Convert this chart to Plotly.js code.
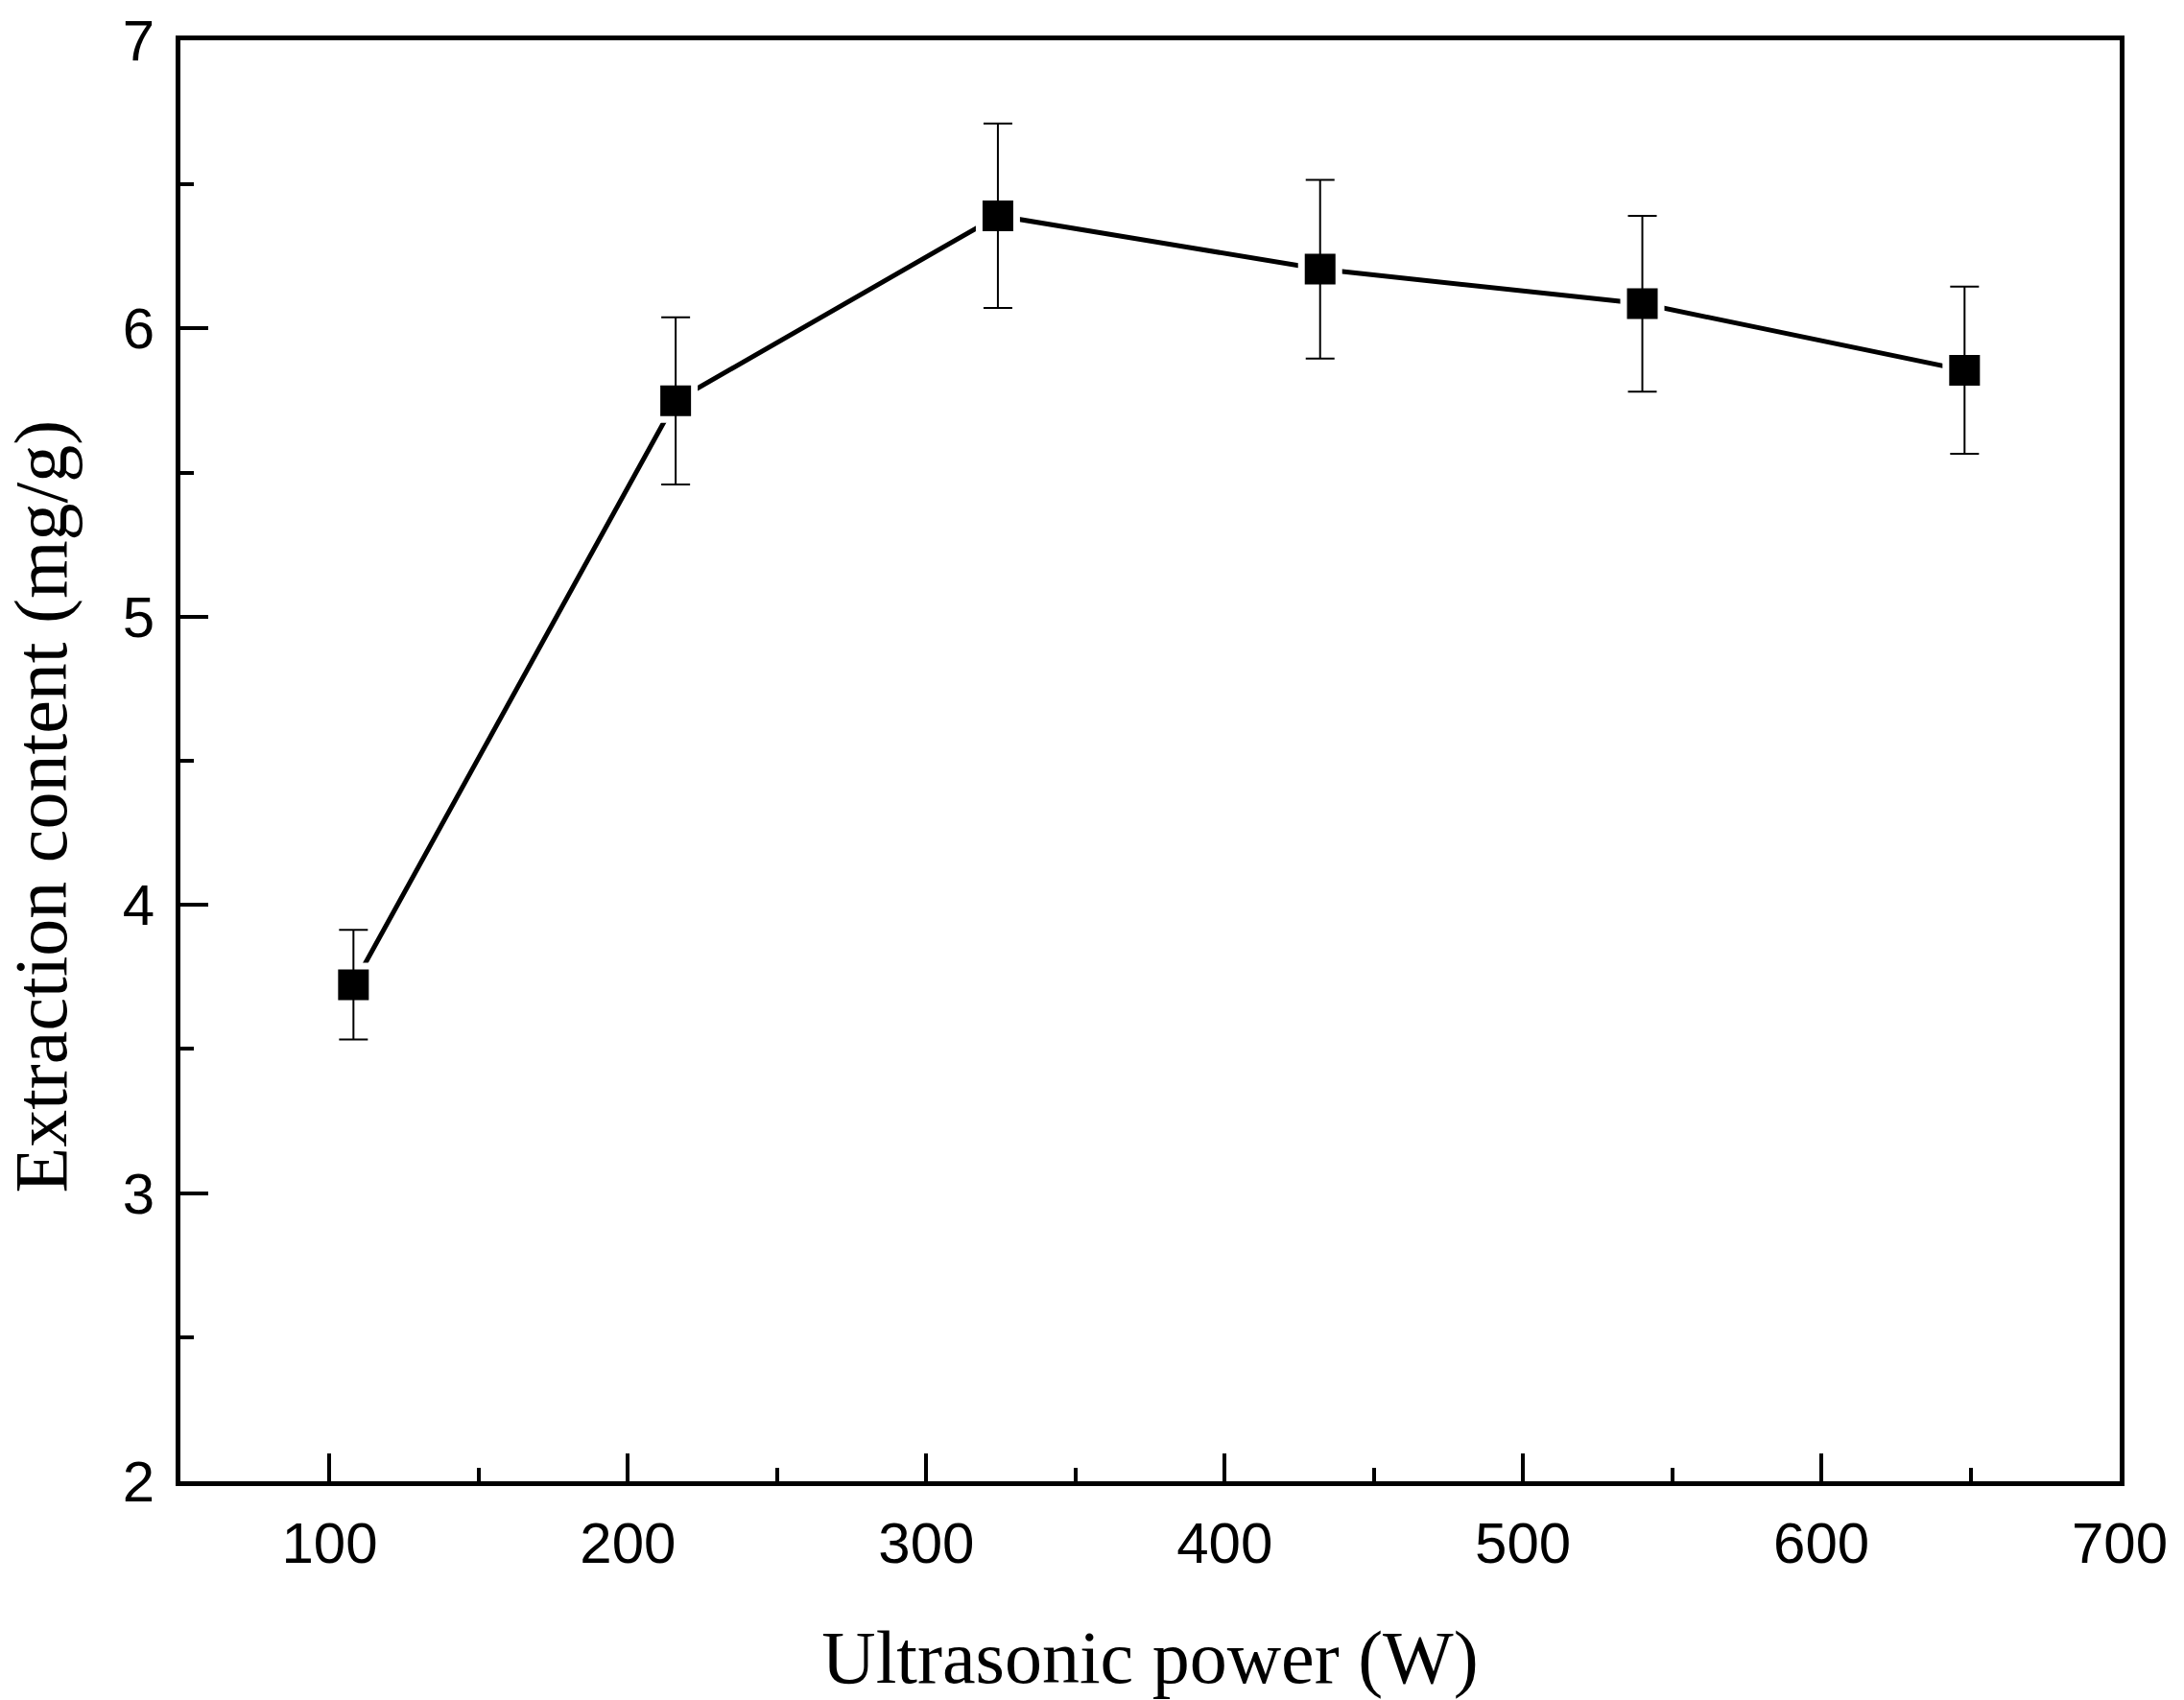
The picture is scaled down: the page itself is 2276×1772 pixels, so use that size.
<!DOCTYPE html>
<html>
<head>
<meta charset="utf-8">
<script src="https://cdn.plot.ly/plotly-3.0.1.min.js"></script>
<style>html,body{margin:0;padding:0;background:#fff;}#chart{width:2276px;height:1772px;}</style>
</head>
<body>
<div id="chart"></div>
<script>
// Data
const power = [108, 216, 324, 432, 540, 648];
const content = [3.723, 5.749, 6.391, 6.206, 6.086, 5.855];
const errors = [0.19, 0.29, 0.32, 0.31, 0.305, 0.29];
const xTicks = [100, 200, 300, 400, 500, 600, 700];
const yTicks = [2, 3, 4, 5, 6, 7];
const xTitle = 'Ultrasonic power (W)';
const yTitle = 'Extraction content (mg/g)';

const tickFont = {family: 'Liberation Sans, Arial, sans-serif', size: 60, color: '#000'};
const titleFont = {family: 'Liberation Serif, Times New Roman, serif', size: 78, color: '#000'};

const traces = [
  {
    x: power, y: content, type: 'scatter', mode: 'lines',
    line: {color: '#000', width: 5},
    hoverinfo: 'skip', showlegend: false
  },
  {
    x: power, y: content, type: 'scatter', mode: 'markers',
    marker: {symbol: 'square', size: 46, color: '#fff', line: {width: 0}},
    hoverinfo: 'skip', showlegend: false
  },
  {
    x: power, y: content, type: 'scatter', mode: 'markers',
    marker: {symbol: 'square', size: 32, color: '#000', line: {width: 0}},
    error_y: {type: 'data', array: errors, visible: true, color: '#000', thickness: 2, width: 15},
    showlegend: false
  }
];

const layout = {
  width: 2276, height: 1772,
  margin: {l: 188, r: 67, t: 42, b: 228},
  paper_bgcolor: '#fff', plot_bgcolor: '#fff',
  showlegend: false,
  xaxis: {
    range: [50, 700], tickmode: 'array', tickvals: xTicks, ticktext: xTicks.map(String),
    ticks: 'inside', ticklen: 29, tickwidth: 4, tickcolor: '#000',
    minor: {dtick: 50, tick0: 0, ticks: 'inside', ticklen: 14, tickwidth: 4, tickcolor: '#000', showgrid: false},
    showline: true, linewidth: 5, linecolor: '#000', mirror: true,
    showgrid: false, zeroline: false, tickfont: tickFont,
    ticklabelstandoff: 8,
    title: {text: xTitle, font: titleFont, standoff: 60}
  },
  yaxis: {
    range: [2, 7], tickmode: 'array', tickvals: yTicks, ticktext: yTicks.map(String),
    ticks: 'inside', ticklen: 29, tickwidth: 4, tickcolor: '#000',
    minor: {dtick: 0.5, tick0: 0, ticks: 'inside', ticklen: 14, tickwidth: 4, tickcolor: '#000', showgrid: false},
    showline: true, linewidth: 5, linecolor: '#000', mirror: true,
    showgrid: false, zeroline: false, tickfont: tickFont,
    ticklabelstandoff: 10
  },
  annotations: [{
    text: yTitle, textangle: -90, font: titleFont,
    xref: 'paper', yref: 'paper', x: -188 / 2021, y: 1 - (841 - 42) / 1502,
    xanchor: 'left', yanchor: 'middle', showarrow: false, xshift: -4
  }]
};

Plotly.newPlot('chart', traces, layout, {displayModeBar: false, staticPlot: true});
</script>
</body>
</html>
